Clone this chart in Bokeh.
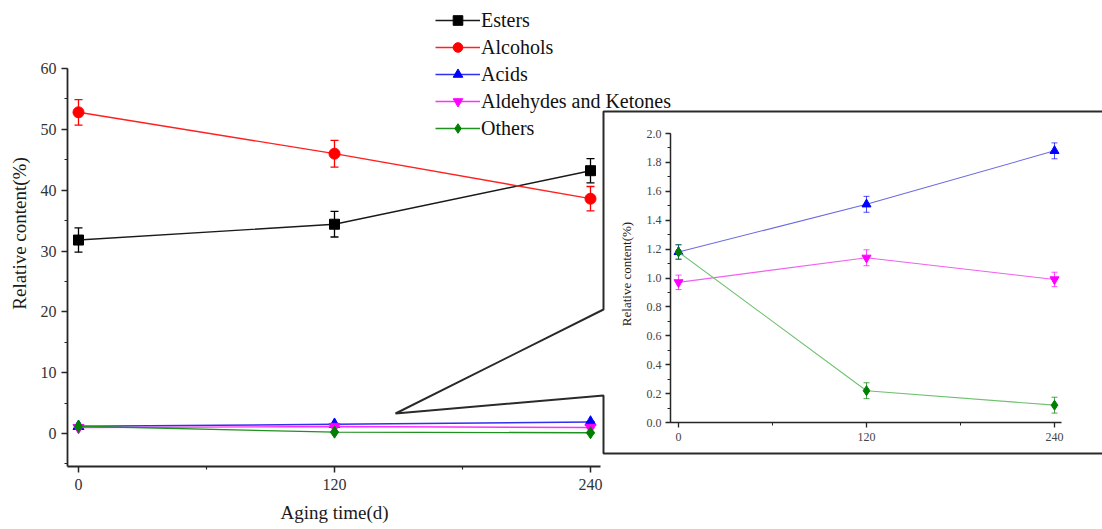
from bokeh.plotting import figure
from bokeh.models import (Range1d, FixedTicker, SingleIntervalTicker, Whisker, TeeHead,
                          ColumnDataSource, Legend, LegendItem, GridBox, NumeralTickFormatter,
                          Title)
from bokeh.embed import file_html
from bokeh.resources import INLINE

# ---------------- data ----------------
days = [0, 120, 240]
x_ticks = [0, 120, 240]
x_minor_ticks = [60, 180]
series_names = ["Esters", "Alcohols", "Acids", "Aldehydes and Ketones", "Others"]
esters = [31.8, 34.4, 43.2]
esters_err = [2.0, 2.1, 2.0]
alcohols = [52.8, 46.0, 38.6]
alcohols_err = [2.1, 2.2, 2.0]
acids = [1.18, 1.51, 1.88]
acids_err = [0.05, 0.055, 0.055]
ald_ketones = [0.97, 1.14, 0.99]
ald_ketones_err = [0.05, 0.055, 0.05]
others = [1.18, 0.22, 0.12]
others_err = [0.05, 0.055, 0.055]

values = [esters, alcohols, acids, ald_ketones, others]
errors = [esters_err, alcohols_err, acids_err, ald_ketones_err, others_err]
colors = ["#000000", "#ff0000", "#0000ff", "#ff00ff", "#008000"]
line_colors = ["#1a1a1a", "#ff2020", "#3030ee", "#ff30ff", "#209020"]
inset_line_colors = ["#1a1a1a", "#ff2020", "#6a6ae0", "#f060f0", "#70c070"]
markers = ["square", "circle", "triangle", "inverted_triangle", "diamond"]
main_sizes = [10, 11, 11, 11, 12]
inset_sizes = [8, 9, 9, 9, 10]

SERIF = "Liberation Serif"
AX = "#262626"

# ---------------- main figure ----------------
W, H = 1102, 529
FL, FB = 67, 466           # frame left / bottom in pixels
kx = 256 / 120.0           # px per day
ky = 365 / 60.0            # px per percent
x0_px, y0_px = 78, 433     # pixel of x=0 / y=0
xs = (FL - x0_px) / kx
xe = (W - x0_px) / kx
ys = -(FB - y0_px) / ky
ye = y0_px / ky

p = figure(width=W, height=H, output_backend="svg", toolbar_location=None,
           x_range=Range1d(xs, xe), y_range=Range1d(ys, ye),
           min_border_left=FL, min_border_right=0, min_border_top=0,
           min_border_bottom=H - FB)
p.xgrid.visible = False
p.ygrid.visible = False
p.outline_line_color = None

p.xaxis.ticker = FixedTicker(ticks=x_ticks, minor_ticks=x_minor_ticks)
p.xaxis.bounds = (xs, 244.7)
p.yaxis.ticker = SingleIntervalTicker(interval=10, num_minor_ticks=2)
p.yaxis.bounds = (ys, 60)
p.yaxis.formatter = NumeralTickFormatter(format="0")
for ax in (p.xaxis[0], p.yaxis[0]):
    ax.axis_line_color = AX
    ax.axis_line_width = 1.8
    ax.major_tick_line_color = AX
    ax.minor_tick_line_color = AX
    ax.major_tick_line_width = 1.5
    ax.minor_tick_line_width = 1.2
    ax.major_tick_out = 6
    ax.major_tick_in = 0
    ax.minor_tick_out = 3
    ax.minor_tick_in = 0
    ax.major_label_text_font = SERIF
    ax.major_label_text_font_size = "16px"
    ax.major_label_text_color = "#333333"
    ax.axis_label_text_font = SERIF
    ax.axis_label_text_font_size = "19px"
    ax.axis_label_text_font_style = "normal"
    ax.axis_label_text_color = "#1a1a1a"
p.yaxis.axis_label = "Relative content(%)"
p.xaxis.major_label_standoff = 6
p.yaxis.major_label_standoff = 5
p.yaxis.axis_label_standoff = 8

# x-axis title centred under the main axis (frame extends under the inset)
x_title_center_px = 334
x_title_width_px = 108
p.add_layout(Title(text="Aging time(d)", align="left",
                   offset=x_title_center_px - x_title_width_px / 2 - FL,
                   text_font=SERIF, text_font_size="19px", text_font_style="normal",
                   text_color="#1a1a1a", standoff=14), "below")

items = []
for name, vals, errs, c, lc, mk, sz in zip(series_names, values, errors, colors,
                                           line_colors, markers, main_sizes):
    src = ColumnDataSource(dict(x=days, y=vals,
                                lo=[v - e for v, e in zip(vals, errs)],
                                hi=[v + e for v, e in zip(vals, errs)]))
    lr = p.line("x", "y", source=src, line_color=lc, line_width=1.4)
    w = Whisker(base="x", lower="lo", upper="hi", source=src, line_color=c, line_width=1.3,
                upper_head=TeeHead(size=8, line_color=c, line_width=1.3),
                lower_head=TeeHead(size=8, line_color=c, line_width=1.3))
    p.add_layout(w)
    mr = p.scatter("x", "y", source=src, marker=mk, size=sz, fill_color=c, line_color=c)
    items.append(LegendItem(label=name, renderers=[lr, mr]))

legend = Legend(items=items, location=(368, 326), orientation="vertical",
                label_text_font=SERIF, label_text_font_size="20px",
                label_text_color="#111111",
                glyph_width=45, glyph_height=24, label_height=20, label_standoff=1,
                spacing=3, padding=0, margin=0, border_line_color=None,
                background_fill_alpha=0)
p.add_layout(legend)

# callout outline (zoom wedge + inset frame), given in pixels, mapped to data units
callout_px_x = [1110, 603, 603, 395, 603, 603, 1110]
callout_px_y = [111, 111, 309, 413, 395, 453, 453]
callout_x = [(sx - x0_px) / kx for sx in callout_px_x]
callout_y = [(y0_px - sy) / ky for sy in callout_px_y]
p.line(callout_x, callout_y, line_color="#2a2a2a", line_width=2)

# ---------------- inset figure ----------------
# borders kept equal to the main figure's so grid alignment changes nothing
IL, IT = 603, 125
ifl, ifr, ift, ifb = IL + FL, 1068, IT, 422
IW, IH = ifr - IL, ifb + (H - FB) - IT
ix0_px, iy0_px = 678, 422
ikx = (866 - 678) / 120.0
iky = (422 - 133) / 2.0
ixs = (ifl - ix0_px) / ikx
ixe = (ifr - ix0_px) / ikx
iye = (iy0_px - ift) / iky

q = figure(width=IW, height=IH, output_backend="svg", toolbar_location=None,
           x_range=Range1d(ixs, ixe), y_range=Range1d(0, iye),
           min_border_left=FL, min_border_right=0,
           min_border_top=0, min_border_bottom=H - FB)
q.background_fill_alpha = 0
q.border_fill_alpha = 0
q.xgrid.visible = False
q.ygrid.visible = False
q.outline_line_color = None
q.margin = (IT, 0, 0, IL)
q.xaxis.ticker = FixedTicker(ticks=x_ticks, minor_ticks=x_minor_ticks)
q.xaxis.bounds = (ixs, 244.5)
q.yaxis.ticker = SingleIntervalTicker(interval=0.2, num_minor_ticks=2)
q.yaxis.bounds = (0, 2.0)
q.yaxis.formatter = NumeralTickFormatter(format="0.0")
for ax in (q.xaxis[0], q.yaxis[0]):
    ax.axis_line_color = AX
    ax.axis_line_width = 1.5
    ax.major_tick_line_color = AX
    ax.minor_tick_line_color = AX
    ax.major_tick_line_width = 1.3
    ax.minor_tick_line_width = 1.0
    ax.major_tick_out = 5
    ax.major_tick_in = 0
    ax.minor_tick_out = 3
    ax.minor_tick_in = 0
    ax.major_label_text_font = SERIF
    ax.major_label_text_font_size = "12px"
    ax.major_label_text_color = "#444444"
    ax.axis_label_text_font = SERIF
    ax.axis_label_text_font_size = "13px"
    ax.axis_label_text_font_style = "normal"
    ax.axis_label_text_color = "#1a1a1a"
q.yaxis.axis_label = "Relative content(%)"
q.yaxis.axis_label_standoff = 10
q.yaxis.major_label_standoff = 4
q.xaxis.major_label_standoff = 5

for name, vals, errs, c, lc, mk, sz in list(zip(series_names, values, errors, colors,
                                                 inset_line_colors, markers, inset_sizes))[2:]:
    src = ColumnDataSource(dict(x=days, y=vals,
                                lo=[v - e for v, e in zip(vals, errs)],
                                hi=[v + e for v, e in zip(vals, errs)]))
    q.line("x", "y", source=src, line_color=lc, line_width=1.1)
    w = Whisker(base="x", lower="lo", upper="hi", source=src, line_color=c, line_width=1.0,
                line_alpha=0.7,
                upper_head=TeeHead(size=6, line_color=c, line_width=1.0, line_alpha=0.7),
                lower_head=TeeHead(size=6, line_color=c, line_width=1.0, line_alpha=0.7))
    q.add_layout(w)
    q.scatter("x", "y", source=src, marker=mk, size=sz, fill_color=c, line_color=c)

layout = GridBox(children=[(p, 0, 0), (q, 0, 0)])

with open("out.html", "w") as f:
    f.write(file_html(layout, INLINE))
